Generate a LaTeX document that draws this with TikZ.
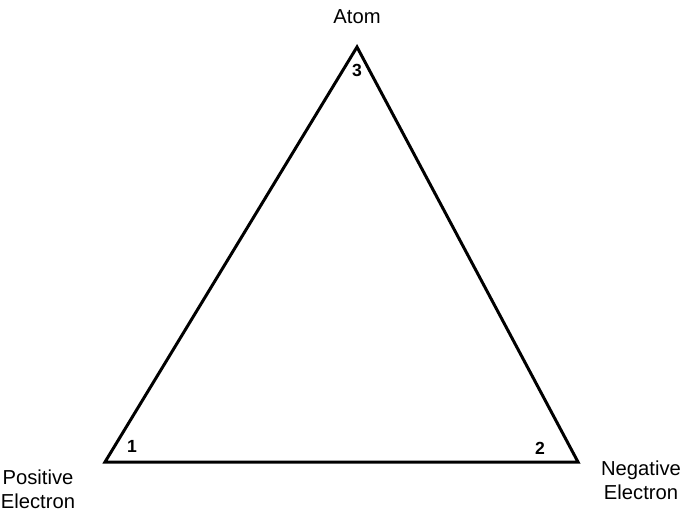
\documentclass[tikz,border=0pt]{standalone}
\usepackage{fontspec}
\setmainfont{Liberation Sans}
\usetikzlibrary{positioning,calc}
\tikzset{
  label/.style={align=center, font=\fontsize{11.5}{13.5}\selectfont, inner sep=0pt},
  corner/.style={font=\bfseries\fontsize{10}{12}\selectfont, inner sep=0pt},
  side/.style={line width=1.7pt, line join=miter}
}

\begin{document}
\begin{tikzpicture}[x=0.02cm, y=-0.02cm]
    \useasboundingbox (0,0) rectangle (688,513);
    \coordinate (top) at (357,47);
    \coordinate (left) at (105,462);
    \coordinate (right) at (578,462);
    \draw[side] (left) -- (top) -- (right) -- cycle;
    \node[label] (atom) at (357,17) {Atom};
    \node[label] (pos) at (38,489) {Positive\\Electron};
    \node[label] (neg) at (641,480) {Negative\\Electron};
    \node[corner] (c3) at (357,70) {3};
    \node[corner] (c1) at (132,446) {1};
    \node[corner] (c2) at (540,448) {2};
  \end{tikzpicture}
\end{document}
